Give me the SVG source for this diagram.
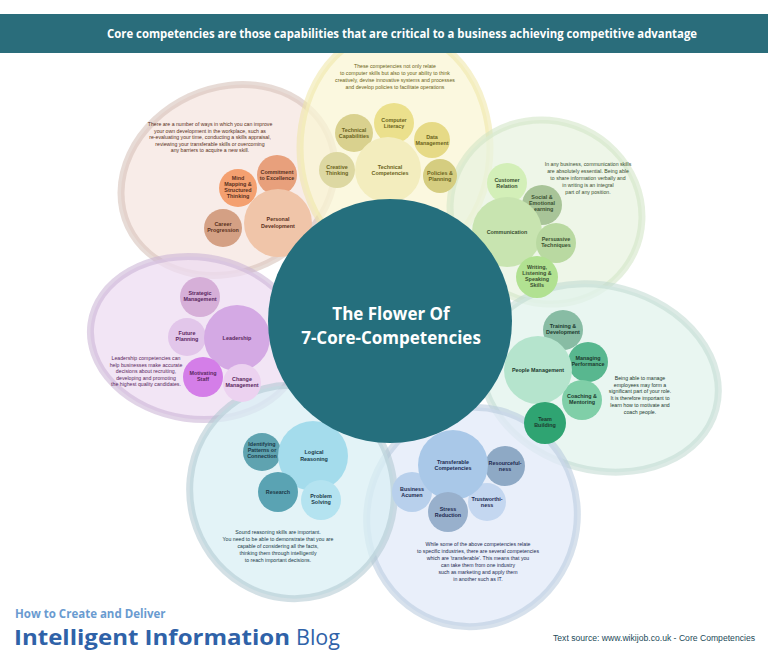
<svg xmlns="http://www.w3.org/2000/svg" width="768" height="655" viewBox="0 0 768 655">
<style>
.petal{stroke-width:7;fill-opacity:0.75;stroke-opacity:0.55}
.p{font-family:"Liberation Sans",Arial,sans-serif;font-size:5.2px;text-anchor:middle}
.n{font-family:"Liberation Sans",Arial,sans-serif;font-size:5.4px;font-weight:bold;text-anchor:middle}
.title{font-family:"Open Sans","Liberation Sans",sans-serif;font-weight:bold;fill:#ffffff;text-anchor:middle}
</style>
<rect width="768" height="655" fill="#ffffff"/>

<!-- petals -->
<g id="petals">
  <ellipse id="petal-personal" class="petal" cx="228" cy="180" rx="110" ry="92" transform="rotate(-25 228 180)" fill="#f6e6e0" stroke="#d4beb4"/>
  <ellipse id="petal-leadership" class="petal" cx="196" cy="338" rx="106" ry="81" transform="rotate(8 196 338)" fill="#eedcf2" stroke="#c8b0d4"/>
  <ellipse id="petal-technical" class="petal" cx="395" cy="148" rx="95" ry="118" fill="#faf5d4" stroke="#efe6a4"/>
  <ellipse id="petal-communication" class="petal" cx="546" cy="212" rx="97" ry="91" transform="rotate(25 546 212)" fill="#e8f3e0" stroke="#cfe3c2"/>
  <ellipse id="petal-people" class="petal" cx="600" cy="378" rx="120" ry="92" transform="rotate(15 600 378)" fill="#e2f3ec" stroke="#bfd8cf"/>
  <ellipse id="petal-transferable" class="petal" cx="472" cy="517" rx="105" ry="110" transform="rotate(15 472 517)" fill="#e2eaf8" stroke="#b6c8dc"/>
  <ellipse id="petal-reasoning" class="petal" cx="292" cy="492" rx="102" ry="107" transform="rotate(-15 292 492)" fill="#d9eff4" stroke="#aec6d0"/>
</g>

<!-- header -->
<g id="header">
  <rect x="0" y="14" width="768" height="39" fill="#2a6d7b"/>
  <text x="402" y="38" font-family="'Open Sans','Liberation Sans',sans-serif" font-weight="bold" font-size="12.5" fill="#ffffff" text-anchor="middle" textLength="590" lengthAdjust="spacingAndGlyphs">Core competencies are those capabilities that are critical to a business achieving competitive advantage</text>
</g>

<!-- technical (yellow) -->
<g id="technical-text" fill="#6b6420">
  <text class="p" x="395" y="68">These competencies not only relate</text>
  <text class="p" x="395" y="75">to computer skills but also to your ability to think</text>
  <text class="p" x="395" y="82">creatively, devise innovative systems and processes</text>
  <text class="p" x="395" y="89">and develop policies to facilitate operations</text>
</g>
<g id="computer-literacy"><circle cx="394" cy="123" r="20" fill="#ebe08c"/><text class="n" fill="#6b6420" x="394" y="122">Computer</text><text class="n" fill="#6b6420" x="394" y="128">Literacy</text></g>
<g id="technical-capabilities"><circle cx="354" cy="133" r="19" fill="#d9d18e"/><text class="n" fill="#6b6420" x="354" y="132">Technical</text><text class="n" fill="#6b6420" x="354" y="138">Capabilities</text></g>
<g id="data-management"><circle cx="432" cy="140" r="18" fill="#e6da86"/><text class="n" fill="#6b6420" x="432" y="139">Data</text><text class="n" fill="#6b6420" x="432" y="145">Management</text></g>
<g id="creative-thinking"><circle cx="337" cy="170" r="18" fill="#ddd8a2"/><text class="n" fill="#6b6420" x="337" y="169">Creative</text><text class="n" fill="#6b6420" x="337" y="175">Thinking</text></g>
<g id="policies-planning"><circle cx="440" cy="176" r="17" fill="#d5cd80"/><text class="n" fill="#6b6420" x="440" y="175">Policies &amp;</text><text class="n" fill="#6b6420" x="440" y="181">Planning</text></g>
<g id="technical-competencies"><circle cx="388" cy="170" r="33" fill="#f3edbe"/><text class="n" fill="#6b6420" x="390" y="169">Technical</text><text class="n" fill="#6b6420" x="390" y="175">Competencies</text></g>

<!-- personal development (orange) -->
<g id="personal-text" fill="#5a3020">
  <text class="p" x="210" y="126">There are a number of ways in which you can improve</text>
  <text class="p" x="210" y="132.5">your own development in the workplace, such as</text>
  <text class="p" x="210" y="139">re-evaluating your time, conducting a skills appraisal,</text>
  <text class="p" x="210" y="145.5">reviewing your transferable skills or overcoming</text>
  <text class="p" x="210" y="152">any barriers to acquire a new skill.</text>
</g>
<g id="commitment"><circle cx="277" cy="175" r="20" fill="#e8a07c"/><text class="n" fill="#5a3020" x="277" y="174">Commitment</text><text class="n" fill="#5a3020" x="277" y="180">to Excellence</text></g>
<g id="mind-mapping"><circle cx="238" cy="188" r="19" fill="#f4a070"/><text class="n" fill="#5a3020" x="238" y="180">Mind</text><text class="n" fill="#5a3020" x="238" y="186">Mapping &amp;</text><text class="n" fill="#5a3020" x="238" y="192">Structured</text><text class="n" fill="#5a3020" x="238" y="198">Thinking</text></g>
<g id="career-progression"><circle cx="223" cy="228" r="19" fill="#d4a084"/><text class="n" fill="#5a3020" x="223" y="226">Career</text><text class="n" fill="#5a3020" x="223" y="232">Progression</text></g>
<g id="personal-development"><circle cx="278" cy="223" r="34" fill="#f0c5a9"/><text class="n" fill="#5a3020" x="278" y="221">Personal</text><text class="n" fill="#5a3020" x="278" y="228">Development</text></g>

<!-- communication (green) -->
<g id="communication-text" fill="#3a5030">
  <text class="p" x="588" y="166">In any business, communication skills</text>
  <text class="p" x="588" y="173">are absolutely essential. Being able</text>
  <text class="p" x="588" y="180">to share information verbally and</text>
  <text class="p" x="588" y="187">in writing is an integral</text>
  <text class="p" x="588" y="194">part of any position.</text>
</g>
<g id="customer-relation"><circle cx="507" cy="183" r="20" fill="#d3efb8"/><text class="n" fill="#3a5030" x="507" y="182">Customer</text><text class="n" fill="#3a5030" x="507" y="188">Relation</text></g>
<g id="social-emotional"><circle cx="542" cy="205" r="20" fill="#a8c498"/><text class="n" fill="#3a5030" x="542" y="199">Social &amp;</text><text class="n" fill="#3a5030" x="542" y="205">Emotional</text><text class="n" fill="#3a5030" x="542" y="211">Learning</text></g>
<g id="communication"><circle cx="507" cy="232" r="35" fill="#c8e4b0"/><text class="n" fill="#3a5030" x="507" y="234">Communication</text></g>
<g id="persuasive"><circle cx="556" cy="243" r="20" fill="#b9d9a1"/><text class="n" fill="#3a5030" x="556" y="241">Persuasive</text><text class="n" fill="#3a5030" x="556" y="247">Techniques</text></g>
<g id="writing"><circle cx="537" cy="277" r="21" fill="#b1e191"/><text class="n" fill="#3a5030" x="537" y="269">Writing,</text><text class="n" fill="#3a5030" x="537" y="275">Listening &amp;</text><text class="n" fill="#3a5030" x="537" y="281">Speaking</text><text class="n" fill="#3a5030" x="537" y="287">Skills</text></g>

<!-- leadership (purple) -->
<g id="leadership-text" fill="#5a2860">
  <text class="p" x="146" y="360">Leadership competencies can</text>
  <text class="p" x="146" y="366.5">help businesses make accurate</text>
  <text class="p" x="146" y="373">decisions about recruiting,</text>
  <text class="p" x="146" y="379.5">developing and promoting</text>
  <text class="p" x="146" y="386">the highest quality candidates.</text>
</g>
<g id="strategic-management"><circle cx="200" cy="297" r="20" fill="#d6afd8"/><text class="n" fill="#5a2860" x="200" y="295">Strategic</text><text class="n" fill="#5a2860" x="200" y="301">Management</text></g>
<g id="future-planning"><circle cx="187" cy="337" r="19" fill="#e2c6ea"/><text class="n" fill="#5a2860" x="187" y="335">Future</text><text class="n" fill="#5a2860" x="187" y="341">Planning</text></g>
<g id="leadership"><circle cx="237" cy="338" r="33" fill="#d4a9e4"/><text class="n" fill="#5a2860" x="237" y="340">Leadership</text></g>
<g id="motivating-staff"><circle cx="203" cy="377" r="20" fill="#d47ee8"/><text class="n" fill="#5a2860" x="203" y="375">Motivating</text><text class="n" fill="#5a2860" x="203" y="381">Staff</text></g>
<g id="change-management"><circle cx="242" cy="383" r="19" fill="#ecd2f0"/><text class="n" fill="#5a2860" x="242" y="381">Change</text><text class="n" fill="#5a2860" x="242" y="387">Management</text></g>

<!-- people management (teal) -->
<g id="people-text" fill="#1c3a2e">
  <text class="p" x="640" y="380">Being able to manage</text>
  <text class="p" x="640" y="386.5">employees may form a</text>
  <text class="p" x="640" y="393">significant part of your role.</text>
  <text class="p" x="640" y="400">It is therefore important to</text>
  <text class="p" x="640" y="407">learn how to motivate and</text>
  <text class="p" x="640" y="414">coach people.</text>
</g>
<g id="training-development"><circle cx="563" cy="330" r="20" fill="#88bca4"/><text class="n" fill="#1c3a2e" x="563" y="328">Training &amp;</text><text class="n" fill="#1c3a2e" x="563" y="334">Development</text></g>
<g id="managing-performance"><circle cx="588" cy="362" r="20" fill="#58b78f"/><text class="n" fill="#1c3a2e" x="588" y="360">Managing</text><text class="n" fill="#1c3a2e" x="588" y="366">Performance</text></g>
<g id="coaching-mentoring"><circle cx="582" cy="400" r="20" fill="#80cfa8"/><text class="n" fill="#1c3a2e" x="582" y="398">Coaching &amp;</text><text class="n" fill="#1c3a2e" x="582" y="404">Mentoring</text></g>
<g id="people-management"><circle cx="538" cy="370" r="34" fill="#b5e4cd"/><text class="n" fill="#1c3a2e" x="538" y="372">People Management</text></g>
<g id="team-building"><circle cx="545" cy="423" r="21" fill="#2fa472"/><text class="n" fill="#1c3a2e" x="545" y="421">Team</text><text class="n" fill="#1c3a2e" x="545" y="427">Building</text></g>

<!-- transferable (blue) -->
<g id="transferable-text" fill="#1c2a50">
  <text class="p" x="478" y="546">While some of the above competencies relate</text>
  <text class="p" x="478" y="553">to specific industries, there are several competencies</text>
  <text class="p" x="478" y="560">which are 'transferable'. This means that you</text>
  <text class="p" x="478" y="567">can take them from one industry</text>
  <text class="p" x="478" y="574">such as marketing and apply them</text>
  <text class="p" x="478" y="581">in another such as IT.</text>
</g>
<g id="resourcefulness"><circle cx="505" cy="466" r="20" fill="#8ea9c5"/><text class="n" fill="#1c2a50" x="505" y="465">Resourceful-</text><text class="n" fill="#1c2a50" x="505" y="471">ness</text></g>
<g id="business-acumen"><circle cx="412" cy="492" r="20" fill="#b8d0ec"/><text class="n" fill="#1c2a50" x="412" y="491">Business</text><text class="n" fill="#1c2a50" x="412" y="497">Acumen</text></g>
<g id="trustworthiness"><circle cx="487" cy="502" r="19" fill="#c4d7f0"/><text class="n" fill="#1c2a50" x="487" y="501">Trustworthi-</text><text class="n" fill="#1c2a50" x="487" y="507">ness</text></g>
<g id="transferable-competencies"><circle cx="453" cy="465" r="35" fill="#a9c8e8"/><text class="n" fill="#1c2a50" x="453" y="464">Transferable</text><text class="n" fill="#1c2a50" x="453" y="470">Competencies</text></g>
<g id="stress-reduction"><circle cx="448" cy="512" r="20" fill="#98b0cc"/><text class="n" fill="#1c2a50" x="448" y="511">Stress</text><text class="n" fill="#1c2a50" x="448" y="517">Reduction</text></g>

<!-- reasoning (light blue) -->
<g id="reasoning-text" fill="#1a3a48">
  <text class="p" x="278" y="534">Sound reasoning skills are important.</text>
  <text class="p" x="278" y="541">You need to be able to demonstrate that you are</text>
  <text class="p" x="278" y="548">capable of considering all the facts,</text>
  <text class="p" x="278" y="555">thinking them through intelligently</text>
  <text class="p" x="278" y="562">to reach important decisions.</text>
</g>
<g id="identifying-patterns"><circle cx="262" cy="452" r="19" fill="#5fa3b0"/><text class="n" fill="#1a3a48" x="262" y="446">Identifying</text><text class="n" fill="#1a3a48" x="262" y="452">Patterns or</text><text class="n" fill="#1a3a48" x="262" y="458">Connection</text></g>
<g id="logical-reasoning"><circle cx="313" cy="456" r="35" fill="#a4dcec"/><text class="n" fill="#1a3a48" x="314" y="454">Logical</text><text class="n" fill="#1a3a48" x="314" y="461">Reasoning</text></g>
<g id="research"><circle cx="278" cy="492" r="20" fill="#5aa3b3"/><text class="n" fill="#1a3a48" x="278" y="494">Research</text></g>
<g id="problem-solving"><circle cx="321" cy="500" r="20" fill="#b4e3f0"/><text class="n" fill="#1a3a48" x="321" y="498">Problem</text><text class="n" fill="#1a3a48" x="321" y="504">Solving</text></g>

<!-- center -->
<g id="center">
  <circle cx="390" cy="321" r="122" fill="#256f7d"/>
  <text class="title" x="391" y="320" font-size="17">The Flower Of</text>
  <text class="title" x="391" y="344" font-size="17">7-Core-Competencies</text>
</g>

<!-- footer -->
<g id="footer">
  <text x="15" y="618" font-family="'Open Sans','Liberation Sans',sans-serif" font-weight="bold" font-size="11.5" fill="#6a9bd0">How to Create and Deliver</text>
  <text x="14" y="645" font-family="'Open Sans','Liberation Sans',sans-serif" font-weight="bold" font-size="22" fill="#2f62a8" textLength="276" lengthAdjust="spacingAndGlyphs">Intelligent Information</text>
  <text x="296" y="645" font-family="'Open Sans','Liberation Sans',sans-serif" font-size="22" fill="#2f62a8" textLength="44" lengthAdjust="spacingAndGlyphs">Blog</text>
  <text x="553" y="641" font-family="'Liberation Sans',Arial,sans-serif" font-size="8.5" fill="#1c4a58" textLength="202" lengthAdjust="spacingAndGlyphs">Text source: www.wikijob.co.uk - Core Competencies</text>
</g>
</svg>
